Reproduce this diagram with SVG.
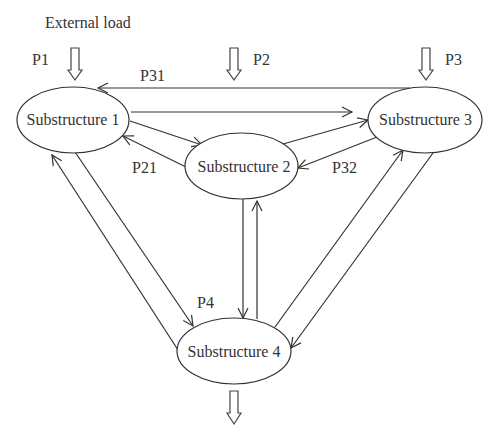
<svg xmlns="http://www.w3.org/2000/svg" width="500" height="442" viewBox="0 0 500 442">
<style>
  .node ellipse { fill: #fff; stroke: #333; stroke-width: 1.2; }
  text { font-family: "Liberation Serif", "Times New Roman", serif; font-size: 16px; fill: #333; }
  .ctr { text-anchor: middle; }
  .conn line { stroke: #333; stroke-width: 1.2; fill: none; marker-end: url(#arr); }
  .load { fill: #fff; stroke: #444; stroke-width: 1.2; }
</style>
<defs>
  <marker id="arr" markerUnits="userSpaceOnUse" markerWidth="14" markerHeight="14" refX="11" refY="6" orient="auto">
    <path d="M1,1 L11,6 L1,11" fill="none" stroke="#333" stroke-width="1.2"/>
  </marker>
</defs>
<rect width="500" height="442" fill="#fff"/>

<text x="45" y="28">External load</text>

<g id="loads">
  <polygon class="load" points="71,48 79,48 79,70 82,70 75,80 68,70 71,70"/>
  <polygon class="load" points="230,48 238,48 238,70 241,70 234,80 227,70 230,70"/>
  <polygon class="load" points="422,48 430,48 430,70 433,70 426,80 419,70 422,70"/>
  <polygon class="load" points="230,391 238,391 238,413 241,413 234,424 227,413 230,413"/>
</g>

<g id="labels">
  <text x="32" y="65">P1</text>
  <text x="253" y="65">P2</text>
  <text x="445" y="65">P3</text>
  <text x="140" y="81">P31</text>
  <text x="132" y="173">P21</text>
  <text x="332" y="173">P32</text>
  <text x="197" y="308">P4</text>
</g>

<g id="connectors" class="conn">
  <line x1="410" y1="88" x2="98" y2="88"/>
  <line x1="131" y1="112" x2="352" y2="112"/>
  <line x1="130" y1="121" x2="202" y2="145"/>
  <line x1="186" y1="167" x2="123" y2="136"/>
  <line x1="283" y1="144" x2="368" y2="120"/>
  <line x1="377" y1="137" x2="298" y2="168"/>
  <line x1="75" y1="152" x2="193" y2="326"/>
  <line x1="178" y1="350" x2="52" y2="155"/>
  <line x1="243" y1="199" x2="243" y2="318"/>
  <line x1="257" y1="319" x2="257" y2="201"/>
  <line x1="275" y1="327" x2="403" y2="150"/>
  <line x1="433" y1="153" x2="291" y2="348"/>
</g>

<g id="sub1" class="node">
  <ellipse cx="73" cy="120" rx="56" ry="33"/>
  <text class="ctr" x="73" y="125">Substructure 1</text>
</g>
<g id="sub2" class="node">
  <ellipse cx="241.5" cy="166" rx="56.5" ry="33"/>
  <text class="ctr" x="244" y="172">Substructure 2</text>
</g>
<g id="sub3" class="node">
  <ellipse cx="425" cy="120" rx="57" ry="33"/>
  <text class="ctr" x="425.5" y="125">Substructure 3</text>
</g>
<g id="sub4" class="node">
  <ellipse cx="234" cy="351" rx="57" ry="33"/>
  <text class="ctr" x="234" y="357">Substructure 4</text>
</g>
</svg>
